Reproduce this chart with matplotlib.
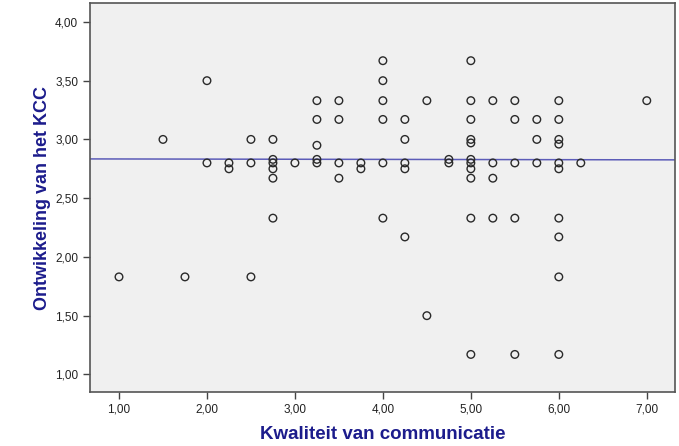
import numpy as np
import matplotlib
matplotlib.use('Agg')
import matplotlib.pyplot as plt
from matplotlib.ticker import FuncFormatter

# Kwaliteit van communicatie (x) and Ontwikkeling van het KCC (y), read per column
x_vals = [1.00,
          1.50,
          1.75,
          2.00, 2.00,
          2.25, 2.25,
          2.50, 2.50, 2.50,
          2.75, 2.75, 2.75, 2.75, 2.75, 2.75,
          3.00,
          3.25, 3.25, 3.25, 3.25, 3.25,
          3.50, 3.50, 3.50, 3.50,
          3.75, 3.75,
          4.00, 4.00, 4.00, 4.00, 4.00, 4.00,
          4.25, 4.25, 4.25, 4.25, 4.25,
          4.50, 4.50,
          4.75, 4.75,
          5.00, 5.00, 5.00, 5.00, 5.00, 5.00, 5.00, 5.00, 5.00, 5.00, 5.00,
          5.25, 5.25, 5.25, 5.25,
          5.50, 5.50, 5.50, 5.50, 5.50,
          5.75, 5.75, 5.75,
          6.00, 6.00, 6.00, 6.00, 6.00, 6.00, 6.00, 6.00, 6.00, 6.00,
          6.25,
          7.00]
y_vals = [1.83,
          3.00,
          1.83,
          3.50, 2.80,
          2.80, 2.75,
          3.00, 2.80, 1.83,
          3.00, 2.83, 2.80, 2.75, 2.67, 2.33,
          2.80,
          3.33, 3.17, 2.95, 2.83, 2.80,
          3.33, 3.17, 2.80, 2.67,
          2.80, 2.75,
          3.67, 3.50, 3.33, 3.17, 2.80, 2.33,
          3.17, 3.00, 2.80, 2.75, 2.17,
          3.33, 1.50,
          2.83, 2.80,
          3.67, 3.33, 3.17, 3.00, 2.97, 2.83, 2.80, 2.75, 2.67, 2.33, 1.17,
          3.33, 2.80, 2.67, 2.33,
          3.33, 3.17, 2.80, 2.33, 1.17,
          3.17, 3.00, 2.80,
          3.33, 3.17, 3.00, 2.96, 2.80, 2.75, 2.33, 2.17, 1.83, 1.17,
          2.80,
          3.33]

# fit line (nearly flat)
fit_x = [0.67, 7.32]
fit_y = [2.834, 2.826]

x_ticks = [1, 2, 3, 4, 5, 6, 7]
y_ticks = [1.0, 1.5, 2.0, 2.5, 3.0, 3.5, 4.0]

plt.rcParams['font.family'] = ['Liberation Sans', 'DejaVu Sans']

fig = plt.figure(figsize=(6.79, 4.46), dpi=100)
ax = fig.add_axes([0.1325, 0.121, 0.8615, 0.872])
ax.set_facecolor('#f0f0f0')

ax.plot(fit_x, fit_y, color='#5c5cb8', linewidth=1.1, zorder=2)
ax.scatter(x_vals, y_vals, s=30, facecolors='none', edgecolors='#2a2a2a',
           linewidths=1.0, zorder=3)

ax.set_xlim(0.67, 7.32)
ax.set_ylim(0.85, 4.16)
ax.set_xticks(x_ticks)
ax.set_yticks(y_ticks)
comma = FuncFormatter(lambda v, p: f'{v:.2f}'.replace('.', ','))
ax.xaxis.set_major_formatter(comma)
ax.yaxis.set_major_formatter(comma)
ax.tick_params(direction='out', length=5, width=1, colors='#444444',
               labelcolor='#222222', labelsize=8.5, top=False, right=False)

for side in ['left', 'bottom', 'top', 'right']:
    ax.spines[side].set_color('#555555')
    ax.spines[side].set_linewidth(1.2)

ax.set_xlabel('Kwaliteit van communicatie', fontsize=13.5, fontweight='bold',
              color='#1c1c8c', labelpad=7.5)
ax.set_ylabel('Ontwikkeling van het KCC', fontsize=13, fontweight='bold',
              color='#1c1c8c', labelpad=3)

fig.savefig('out.png', dpi=100)
